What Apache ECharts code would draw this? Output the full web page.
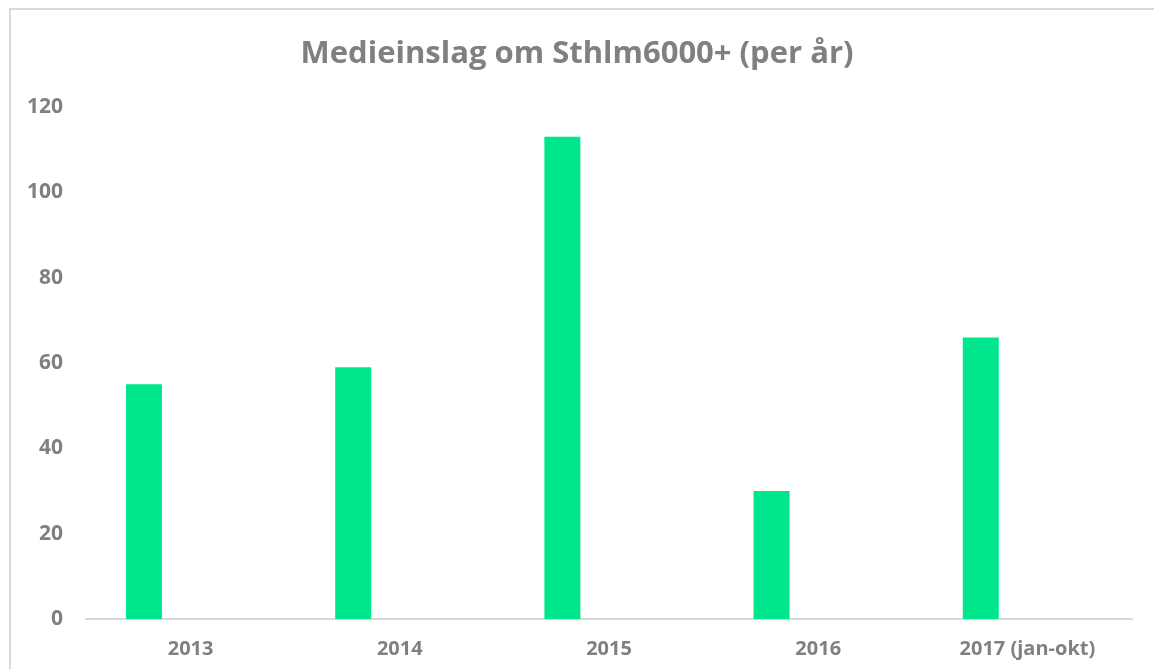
<!DOCTYPE html>
<html>
<head>
<meta charset="utf-8">
<script src="https://cdn.jsdelivr.net/npm/echarts@6/dist/echarts.min.js"></script>
<style>
  html, body { margin: 0; padding: 0; background: #fff; overflow: hidden; }
  .frame {
    position: absolute;
    left: 9px;
    top: 8px;
    width: 1200px;
    height: 720px;
    border-top: 2px solid #d9d9d9;
    border-left: 2px solid #d9d9d9;
  }
  #chart { position: absolute; left: 0; top: 0; width: 1154px; height: 669px; }
</style>
</head>
<body>
<div class="frame"></div>
<div id="chart"></div>
<script>
// data
const years = ['2013', '2014', '2015', '2016', '2017 (jan-okt)'];
const mediaHits = [55, 59, 113, 30, 66];
const emptySeries = [null, null, null, null, null]; // second (empty) series, pushes bars left
const yTicks = { min: 0, max: 120, interval: 20 };

const chart = echarts.init(document.getElementById('chart'));
const grey = '#808080';
const font = '"Open Sans", "DejaVu Sans", sans-serif';

const option = {
  animation: false,
  title: {
    text: 'Medieinslag om Sthlm6000+ (per år)',
    left: 'center',
    top: 34,
    textStyle: { color: grey, fontSize: 31, fontWeight: 'bold', fontFamily: font }
  },
  grid: { left: 86, right: 22, top: 107, bottom: 50 },
  xAxis: {
    type: 'category',
    data: years,
    axisLine: { lineStyle: { color: '#d9d9d9', width: 2 } },
    axisTick: { show: false },
    axisLabel: { color: grey, fontSize: 20, fontWeight: 'bold', fontFamily: font, margin: 20 }
  },
  yAxis: {
    type: 'value',
    min: yTicks.min,
    max: yTicks.max,
    interval: yTicks.interval,
    axisLine: { show: false },
    axisTick: { show: false },
    splitLine: { show: false },
    axisLabel: { color: grey, fontSize: 21, fontWeight: 'bold', fontFamily: font, margin: 23 }
  },
  series: [
    {
      type: 'bar',
      data: mediaHits,
      barWidth: 36,
      barGap: '159%',
      itemStyle: { color: '#00e68c' }
    },
    {
      type: 'bar',
      data: emptySeries,
      barWidth: 36,
      itemStyle: { color: '#a5a5a5' }
    }
  ]
};
chart.setOption(option);
</script>
</body>
</html>
